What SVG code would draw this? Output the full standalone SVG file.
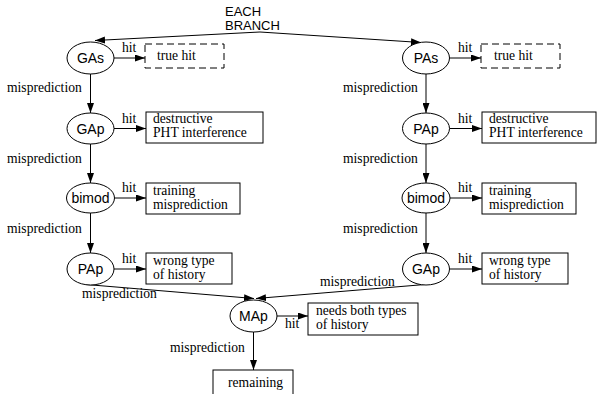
<svg xmlns="http://www.w3.org/2000/svg" width="597" height="394" viewBox="0 0 597 394">
<defs>
<marker id="ah" markerWidth="10" markerHeight="7" refX="10" refY="3.5" orient="auto" markerUnits="userSpaceOnUse">
<path d="M0,0 L10,3.5 L0,7 z" fill="#000"/>
</marker>
<style>
.n{fill:#fff;stroke:#000;stroke-width:1}
.b{fill:#fff;stroke:#000;stroke-width:1}
.d{fill:#fff;stroke:#000;stroke-width:1;stroke-dasharray:7,4}
.s{font-family:"Liberation Sans",Arial,sans-serif;font-size:14px;fill:#000}
.h{font-family:"Liberation Sans",Arial,sans-serif;font-size:13px;fill:#000}
.t{font-family:"Liberation Serif","Times New Roman",serif;font-size:13.6px;fill:#000}
.c{text-anchor:middle}
.e{fill:none;stroke:#000;stroke-width:1;marker-end:url(#ah)}
</style>
</defs>
<rect width="597" height="394" fill="#fff"/>
<g id="connectors">
<polyline class="e" points="260,32 95,40.5"/>
<polyline class="e" points="260,32 421,42.5"/>
<line class="e" x1="114" y1="58" x2="145" y2="58"/>
<line class="e" x1="449.5" y1="58" x2="481" y2="58"/>
<line class="e" x1="90.5" y1="74" x2="90.5" y2="113"/>
<line class="e" x1="426" y1="74" x2="426" y2="113"/>
<line class="e" x1="114" y1="128.5" x2="146" y2="128.5"/>
<line class="e" x1="449.5" y1="128.5" x2="482" y2="128.5"/>
<line class="e" x1="90.5" y1="144" x2="90.5" y2="183"/>
<line class="e" x1="426" y1="144" x2="426" y2="183"/>
<line class="e" x1="114.5" y1="198" x2="146" y2="198"/>
<line class="e" x1="450" y1="198" x2="482" y2="198"/>
<line class="e" x1="90.5" y1="213" x2="90.5" y2="253"/>
<line class="e" x1="426" y1="213" x2="426" y2="253"/>
<line class="e" x1="114" y1="269" x2="146" y2="269"/>
<line class="e" x1="449.5" y1="269" x2="482" y2="269"/>
<line class="e" x1="86" y1="284.5" x2="254" y2="298.5"/>
<line class="e" x1="425" y1="284.5" x2="256" y2="298.5"/>
<line class="e" x1="277" y1="316" x2="308" y2="316"/>
<line class="e" x1="253.5" y1="332" x2="253.5" y2="370"/>
<text class="t" x="122" y="52">hit</text>
<text class="t" x="458" y="52">hit</text>
<text class="t" x="122" y="122.5">hit</text>
<text class="t" x="458" y="122.5">hit</text>
<text class="t" x="122" y="192">hit</text>
<text class="t" x="458" y="192">hit</text>
<text class="t" x="122" y="263">hit</text>
<text class="t" x="458" y="263">hit</text>
<text class="t" x="285" y="328">hit</text>
<text class="t" x="7" y="92">misprediction</text>
<text class="t" x="343" y="92">misprediction</text>
<text class="t" x="7" y="163">misprediction</text>
<text class="t" x="343" y="163">misprediction</text>
<text class="t" x="7" y="233">misprediction</text>
<text class="t" x="343" y="233">misprediction</text>
<text class="t" x="82" y="298">misprediction</text>
<text class="t" x="320" y="286">misprediction</text>
<text class="t" x="170" y="352">misprediction</text>
</g>
<g id="start">
<text class="h" x="225" y="16">EACH</text>
<text class="h" x="225" y="29.5">BRANCH</text>
</g>
<g id="GAs"><ellipse class="n" cx="90.5" cy="58" rx="23.5" ry="16"/><text class="s c" x="90.5" y="63">GAs</text></g>
<g id="PAs"><ellipse class="n" cx="426" cy="58" rx="23.5" ry="16"/><text class="s c" x="426" y="63">PAs</text></g>
<g id="GAp"><ellipse class="n" cx="90.5" cy="128.5" rx="23.5" ry="15.5"/><text class="s c" x="90.5" y="133.5">GAp</text></g>
<g id="PAp1"><ellipse class="n" cx="426" cy="128.5" rx="23.5" ry="15.5"/><text class="s c" x="426" y="133.5">PAp</text></g>
<g id="bimod1"><ellipse class="n" cx="90.5" cy="198" rx="24" ry="15"/><text class="s c" x="90.5" y="203">bimod</text></g>
<g id="bimod2"><ellipse class="n" cx="426" cy="198" rx="24" ry="15"/><text class="s c" x="426" y="203">bimod</text></g>
<g id="PAp2"><ellipse class="n" cx="90.5" cy="269" rx="23.5" ry="16"/><text class="s c" x="90.5" y="274">PAp</text></g>
<g id="GAp2"><ellipse class="n" cx="426" cy="269" rx="23.5" ry="16"/><text class="s c" x="426" y="274">GAp</text></g>
<g id="MAp"><ellipse class="n" cx="253.5" cy="316" rx="23.5" ry="16"/><text class="s c" x="253.5" y="321">MAp</text></g>
<g id="truehit1"><rect class="d" x="145" y="44" width="79" height="24"/><text class="t" x="157" y="60">true hit</text></g>
<g id="truehit2"><rect class="d" x="481" y="44" width="79" height="24"/><text class="t" x="494" y="60">true hit</text></g>
<g id="destr1"><rect class="b" x="146" y="112" width="117" height="31"/><text class="t" x="153" y="123">destructive</text><text class="t" x="153" y="137">PHT interference</text></g>
<g id="destr2"><rect class="b" x="482" y="112" width="114" height="31"/><text class="t" x="489" y="123">destructive</text><text class="t" x="489" y="137">PHT interference</text></g>
<g id="train1"><rect class="b" x="146" y="183" width="94" height="31"/><text class="t" x="153" y="195">training</text><text class="t" x="153" y="208.5">misprediction</text></g>
<g id="train2"><rect class="b" x="482" y="183" width="94" height="31"/><text class="t" x="489" y="195">training</text><text class="t" x="489" y="208.5">misprediction</text></g>
<g id="wrong1"><rect class="b" x="146" y="253" width="86" height="31"/><text class="t" x="153" y="265">wrong type</text><text class="t" x="153" y="279">of history</text></g>
<g id="wrong2"><rect class="b" x="482" y="253" width="86" height="31"/><text class="t" x="489" y="265">wrong type</text><text class="t" x="489" y="279">of history</text></g>
<g id="both"><rect class="b" x="308" y="303" width="110" height="32"/><text class="t" x="316" y="315">needs both types</text><text class="t" x="316" y="329">of history</text></g>
<g id="remaining"><rect class="b" x="213" y="370" width="80" height="30"/><text class="t" x="228" y="387">remaining</text></g>
</svg>
